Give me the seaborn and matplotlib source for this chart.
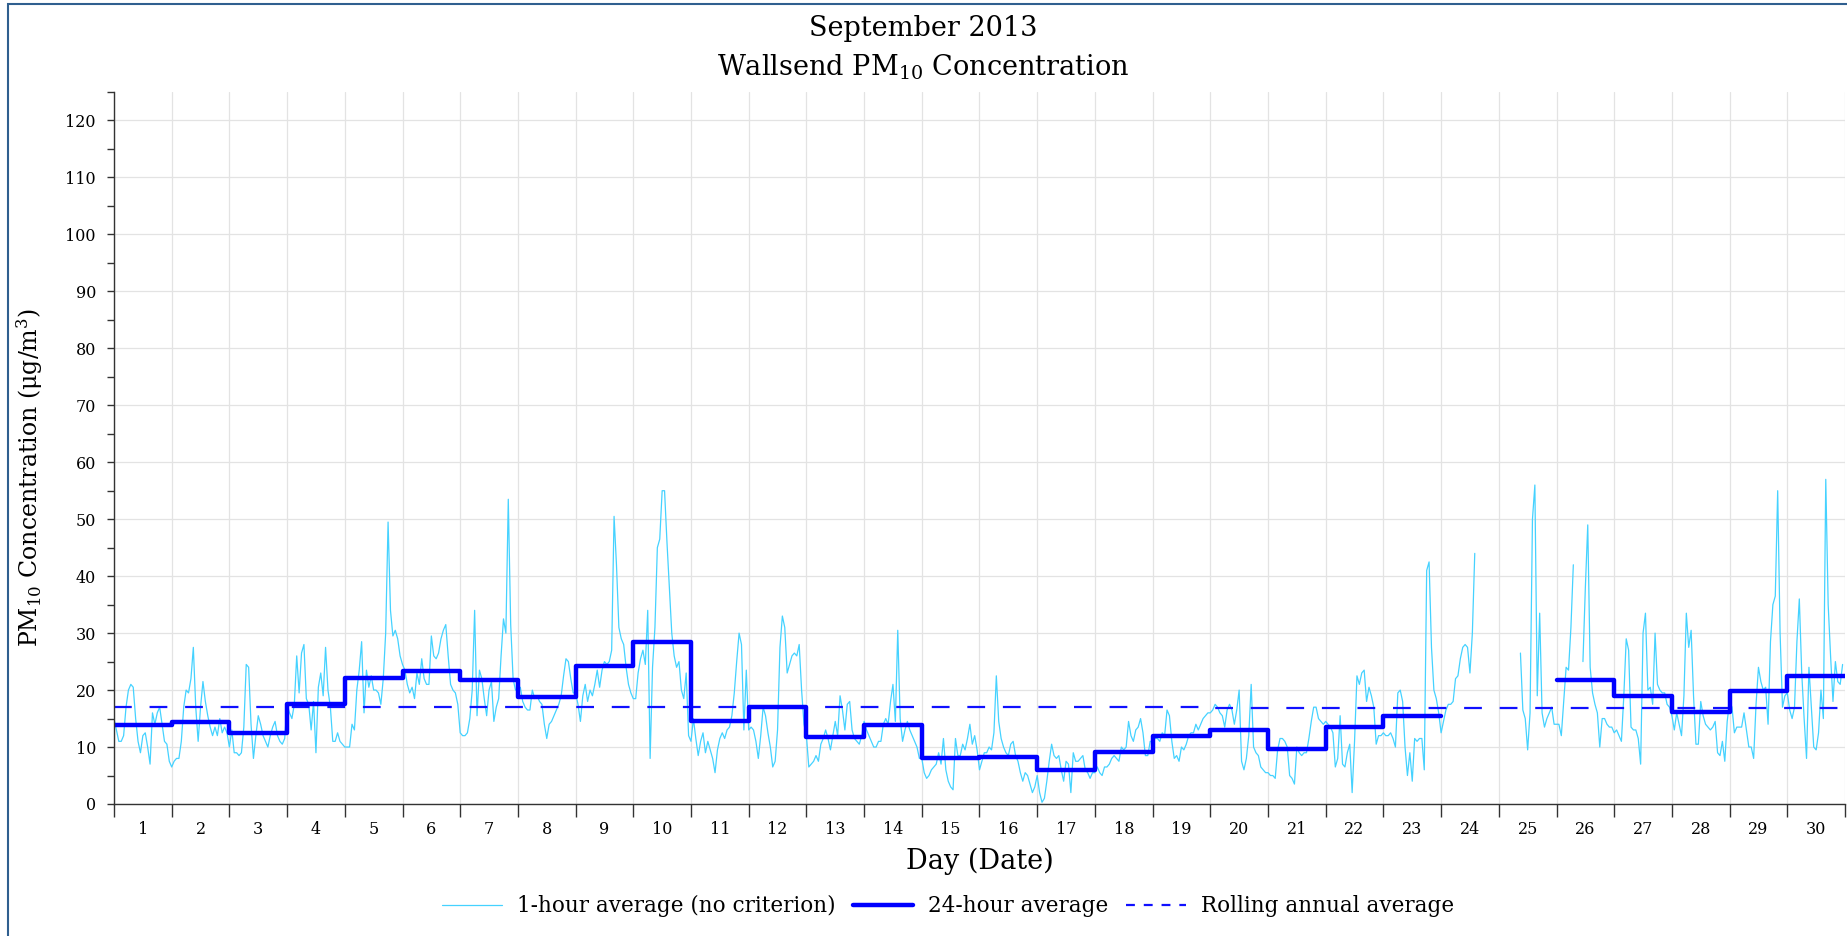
import numpy as np
import pandas as pd
import seaborn as sns
import matplotlib
matplotlib.use('Agg')
import matplotlib.pyplot as plt
from matplotlib.lines import Line2D
from matplotlib.patches import Rectangle

nan = np.nan

# hourly PM10 values, one list per day of September 2013
d01 = [15, 13, 11, 11, 12, 17, 20, 21, 20.5, 15, 11, 9, 12, 12.5, 10, 7, 16, 14, 16, 17, 14, 11, 10.5, 7.5]
d02 = [6.5, 7.5, 8, 8, 11, 17, 20, 19.5, 22, 27.5, 17, 11, 17, 21.5, 18, 15.5, 13.5, 12, 13.5, 12, 15, 12.5, 13.5, 12.5]
d03 = [10, 13, 9, 9, 8.5, 9, 13.5, 24.5, 24, 14, 8, 12, 15.5, 14, 12, 11, 10, 12, 13.5, 14.5, 12, 11, 10.5, 11.5]
d04 = [17.5, 16, 15, 17.5, 26, 19.5, 26.5, 28, 18.5, 17.5, 13, 18, 9, 20.5, 23, 19, 27.5, 20, 17, 11, 11, 12.5, 11, 10.5]
d05 = [10, 10, 10, 14, 13, 20, 23.5, 28.5, 16, 23.5, 20.5, 22.5, 20, 20, 19.5, 17.5, 22, 30, 49.5, 34, 29.5, 30.5, 29, 26]
d06 = [24.5, 23.5, 21, 19.5, 20.5, 18.5, 23, 21, 25.5, 22, 21, 21, 29.5, 26, 25.5, 26.5, 29, 30.5, 31.5, 26, 21, 20, 19.5, 17.5]
d07 = [12.5, 12, 12, 12.5, 15, 20, 34, 15.5, 23.5, 22, 18.5, 15.5, 20, 21.5, 14.5, 17, 18.5, 26, 32.5, 30, 53.5, 31.5, 22, 20]
d08 = [20, 20.5, 18, 17, 16.5, 16.5, 20, 18.5, 19, 18, 17.5, 14, 11.5, 14, 14.5, 15.5, 16.5, 17.5, 19, 22.5, 25.5, 25, 22, 19.5]
d09 = [19.5, 17.5, 14.5, 19, 21, 18, 20, 19, 21, 23.5, 20.5, 23.5, 25, 24.5, 25, 27, 50.5, 42, 31, 29, 28, 24, 21, 19.5]
d10 = [18.5, 18.5, 23, 25.5, 27, 24.5, 34, 8, 24, 31, 45, 46.5, 55, 55, 46, 38, 30, 26, 24, 25, 20, 18.5, 23, 12]
d11 = [11, 15, 11.5, 8.5, 11, 12.5, 9, 11, 9.5, 8, 5.5, 9.5, 11.5, 12.5, 11.5, 13, 13.5, 15.5, 19.5, 25, 30, 28, 13, 23.5]
d12 = [13, 13.5, 13, 11, 8, 12, 17, 15.5, 12.5, 10, 6.5, 7.5, 13, 27.5, 33, 31, 23, 24.5, 26, 26.5, 26, 28, 20, 14]
d13 = [12, 6.5, 7, 7.5, 8.5, 7.5, 10.5, 11.5, 13, 11.5, 9.5, 12, 14.5, 12, 19, 16.5, 13, 17.5, 18, 13, 11.5, 11, 10.5, 12]
d14 = [14.5, 13, 12, 11, 10, 10, 11, 11, 14, 15, 14, 18, 21, 14.5, 30.5, 15, 11, 13, 14.5, 13, 12, 11, 10, 8]
d15 = [8, 5.5, 4.5, 5, 6, 6.5, 7, 9, 7, 11.5, 6, 4, 3, 2.5, 11.5, 8.5, 8.5, 10.5, 9.5, 11.5, 14, 10.5, 12, 9.5]
d16 = [6, 7.5, 9, 9, 10, 9.5, 12.5, 22.5, 14.5, 11.5, 10, 9, 8.5, 10.5, 11, 8.5, 7.5, 5.5, 4, 5.5, 5, 3.5, 2, 3]
d17 = [5, 2, 0.3, 1, 4, 7.5, 10.5, 8.5, 8, 8.5, 6, 4, 7.5, 7, 2, 9, 7.5, 7.5, 8, 8.5, 6, 5.5, 4.5, 5.5]
d18 = [5.5, 6.5, 5.5, 5, 6.5, 6.5, 7, 8, 8.5, 8, 7.5, 10, 9.5, 10, 14.5, 12, 11, 13, 13.5, 15, 12.5, 8.5, 8.5, 11]
d19 = [11, 11.5, 11.5, 11, 12.5, 12, 16.5, 15.5, 11, 8, 8.5, 7.5, 10, 9.5, 10.5, 12, 12.5, 12.5, 14, 13, 14, 15, 15.5, 16]
d20 = [16, 16.5, 17.5, 17, 16, 15.5, 13.5, 16.5, 17.5, 16.5, 14, 16.5, 20, 7.5, 6, 8, 12, 21, 10, 9, 8.5, 6.5, 6, 5.5]
d21 = [5.5, 5, 5, 4.5, 9.5, 11.5, 11.5, 11, 10, 5, 4.5, 3.5, 10, 9, 8.5, 9, 9, 11.5, 14.5, 17, 17, 15, 14.5, 14]
d22 = [14.5, 14, 13.5, 12.5, 6.5, 8, 15.5, 7, 6.5, 9, 10.5, 2, 11, 22.5, 21, 23, 23.5, 18, 20.5, 19, 17, 10.5, 12, 12]
d23 = [12.5, 12, 12, 12.5, 11.5, 10, 19.5, 20, 18, 10, 5, 9, 4, 11.5, 11, 11.5, 11.5, 6, 41, 42.5, 27.5, 20, 18.5, 16]
d24 = [12.5, 14.5, 16.5, 17.5, 17.5, 18, 22, 22.5, 25.5, 27.5, 28, 27.5, 23, 30, 44, nan, nan, nan, nan, nan, nan, nan, nan, nan]
d25 = [nan, nan, nan, nan, nan, nan, nan, nan, nan, 26.5, 16.5, 15, 9.5, 16, 50, 56, 19, 33.5, 16, 13.5, 15, 16, 17, 14]
d26 = [14, 14, 12, 18, 24, 23.5, 31, 42, nan, nan, nan, 25, 38, 49, 24, 19.5, 17.5, 16, 10, 15, 15, 14, 13.5, 13.5]
d27 = [12.5, 13, 12, 11, 19, 29, 27, 13.5, 13, 13, 11.5, 7, 30, 33.5, 20, 20.5, 17.5, 30, 21, 20, 19.5, 19.5, 17.5, 17]
d28 = [15.5, 13, 16, 14, 12, 19, 33.5, 27.5, 30.5, 19, 10.5, 10.5, 18, 15.5, 14, 13.5, 13, 13.5, 14.5, 9, 8.5, 11, 7.5, 14.5]
d29 = [18, 17, 12.5, 13.5, 13.5, 13.5, 16, 13, 10, 10, 8, 17.5, 24, 21.5, 20, 20.5, 14, 28.5, 35, 36.5, 55, 30, 17, 19]
d30 = [19.5, 16.5, 15, 17, 28.5, 36, 23, 15, 8, 24, 17, 10, 9.5, 12.5, 20, 15, 57, 35, 26, 18, 25, 21.5, 21, 24.5]

days = list(range(1, 31))
avg_24h = [13.9, 14.4, 12.5, 17.6, 22.2, 23.3, 21.7, 18.7, 24.3, 28.4,
           14.5, 17.0, 11.8, 13.9, 8.1, 8.3, 6.0, 9.2, 12.0, 13.0,
           9.6, 13.6, 15.5, nan, nan, 21.8, 19.0, 16.1, 19.9, 22.5]
rolling_annual = [17.1, 17.1, 17.1, 17.1, 17.1, 17.1, 17.1, 17.1, 17.1, 17.0,
                  17.0, 17.0, 17.0, 17.0, 17.0, 17.0, 17.0, 17.0, 17.0, 16.9,
                  16.9, 16.9, 16.9, 16.9, 16.9, 16.9, 16.9, 16.9, 16.9, 16.9]

c_hour = '#45d2ff'
c_day = '#0000ff'
c_roll = '#1010ff'

sns.set_style('white')
plt.rcParams['font.family'] = ['DejaVu Serif']
plt.rcParams['mathtext.fontset'] = 'dejavuserif'
plt.rcParams['text.color'] = 'black'
plt.rcParams['xtick.color'] = 'black'
plt.rcParams['ytick.color'] = 'black'

hourly = (d01 + d02 + d03 + d04 + d05 + d06 + d07 + d08 + d09 + d10 + d11 + d12 + d13 + d14 + d15 +
          d16 + d17 + d18 + d19 + d20 + d21 + d22 + d23 + d24 + d25 + d26 + d27 + d28 + d29 + d30)
df_h = pd.DataFrame({'x': np.arange(len(hourly)) / 24, 'v': hourly})
df_h['seg'] = df_h['v'].isna().cumsum()
df_h = df_h.dropna()

# step table for the 24-hour averages (break where days are missing)
rows = []
seg = 0
for i, v in enumerate(avg_24h):
    if np.isnan(v):
        seg += 1
        continue
    rows.append((i, v, seg))
    if i == len(avg_24h) - 1 or np.isnan(avg_24h[i + 1]):
        rows.append((i + 1, v, seg))
df_d = pd.DataFrame(rows, columns=['x', 'v', 'seg'])

df_r = pd.DataFrame({'x': list(range(0, 31)), 'v': rolling_annual + [rolling_annual[-1]]})

fig = plt.figure(figsize=(18.47, 9.36), dpi=100)
ax = fig.add_axes([114 / 1847, 1 - 804 / 936, (1845 - 114) / 1847, (804 - 92) / 936])

sns.lineplot(data=df_h, x='x', y='v', units='seg', estimator=None, sort=False,
             color=c_hour, lw=0.9, ax=ax)
sns.lineplot(data=df_r, x='x', y='v', estimator=None, sort=False, color=c_roll, lw=1.6,
             drawstyle='steps-post', linestyle=(0, (8, 8)), ax=ax)
sns.lineplot(data=df_d, x='x', y='v', units='seg', estimator=None, sort=False,
             color=c_day, lw=3.2, drawstyle='steps-post', ax=ax)

ax.set_xlim(0, 30)
ax.set_ylim(0, 125)
ax.set_xticks(range(0, 31))
ax.set_xticklabels([])
ax.set_xticks(np.arange(0.5, 30), minor=True)
ax.set_xticklabels([str(d) for d in days], minor=True)
ax.set_yticks(range(0, 121, 10))
ax.set_yticks(range(5, 126, 10), minor=True)
ax.tick_params(axis='x', which='major', direction='out', length=9, width=1, color='#333333', bottom=True)
ax.tick_params(axis='x', which='minor', length=0, pad=12, labelsize=11.5)
ax.tick_params(axis='y', which='both', direction='out', length=5, width=1, color='#333333', left=True, labelsize=11.5, pad=8)
ax.grid(True, which='major', color='#e3e3e3', lw=0.9)
ax.set_axisbelow(True)
for s in ['top', 'right']:
    ax.spines[s].set_visible(False)
for s in ['left', 'bottom']:
    ax.spines[s].set_color('#333333')
    ax.spines[s].set_linewidth(1)
ax.set_xlabel('')
ax.set_ylabel('')

fig.text(0.5, 1 - 28 / 936, 'September 2013', ha='center', va='center', fontsize=19.5)
fig.text(0.5, 1 - 67 / 936, 'Wallsend PM$_{10}$ Concentration', ha='center', va='center', fontsize=19.5)
fig.text(980 / 1847, 1 - 861 / 936, 'Day (Date)', ha='center', va='center', fontsize=19.5)
fig.text(30 / 1847, 0.49, 'PM$_{10}$ Concentration (μg/m$^3$)', ha='center', va='center',
         rotation=90, fontsize=17)

handles = [Line2D([], [], color=c_hour, lw=0.9),
           Line2D([], [], color=c_day, lw=3.2),
           Line2D([], [], color=c_roll, lw=1.6, linestyle=(0, (4, 4)))]
labels = ['1-hour average (no criterion)', '24-hour average', 'Rolling annual average']
fig.legend(handles, labels, loc='center', bbox_to_anchor=(948 / 1847, 1 - 906 / 936), ncol=3,
           frameon=False, fontsize=15.5, handlelength=2.8, handletextpad=0.7, columnspacing=0.8)

fig.patches.append(Rectangle((8 / 1847, -0.1), 1.2, 1.0957, transform=fig.transFigure,
                             fill=False, edgecolor='#2f5f8f', lw=1.5))

fig.savefig('out.png', dpi=100)
